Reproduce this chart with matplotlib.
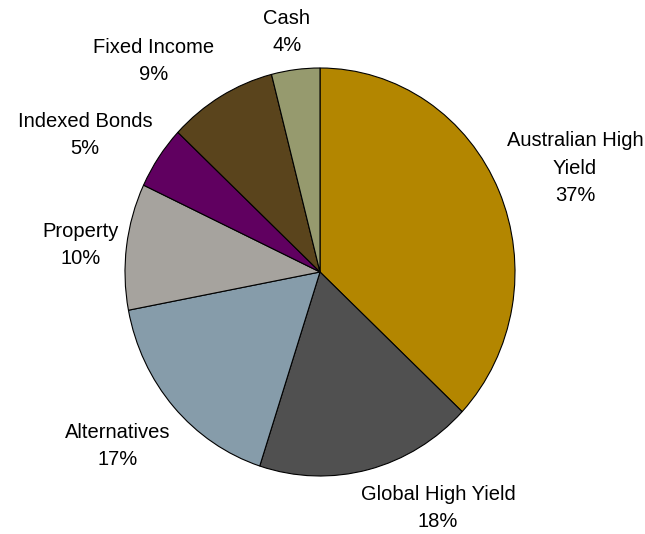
import matplotlib
matplotlib.use("Agg")
import matplotlib.pyplot as plt

# Portfolio allocation, clockwise from 12 o'clock
names = ["Australian High\nYield", "Global High Yield", "Alternatives", "Property",
         "Indexed Bonds", "Fixed Income", "Cash"]
weights = [37, 18, 17, 10, 5, 9, 4]
colors = ["#B38600", "#505050", "#869CAA", "#A6A39E", "#600060", "#5A441C", "#969A6E"]

# label anchor points (pixels from top-left of the figure)
label_px = [(575, 168), (438, 508), (118, 446), (81, 245), (85, 135), (154, 61), (287, 32)]

W, H = 645, 534
plt.rcParams["font.family"] = ["Liberation Sans", "DejaVu Sans"]

fig = plt.figure(figsize=(W / 100, H / 100), dpi=100)
ax = fig.add_axes([0, 0, 1, 1])

ax.pie(weights, colors=colors, startangle=90, counterclock=False,
       wedgeprops=dict(edgecolor="black", linewidth=0.8))

# pie is slightly taller than wide: 195 px across-radius, 204 px tall-radius
cx, cy, rx, ry = 320, 272, 195, 204
ax.set_aspect("auto")
ax.set_xlim(-cx / rx, (W - cx) / rx)
ax.set_ylim(-(H - cy) / ry, cy / ry)
ax.axis("off")

for name, w, (px, py) in zip(names, weights, label_px):
    fig.text(px / W, 1 - py / H, f"{name}\n{w}%", ha="center", va="center",
             fontsize=14.5, linespacing=1.55, color="black")

fig.savefig("out.png", dpi=100)
